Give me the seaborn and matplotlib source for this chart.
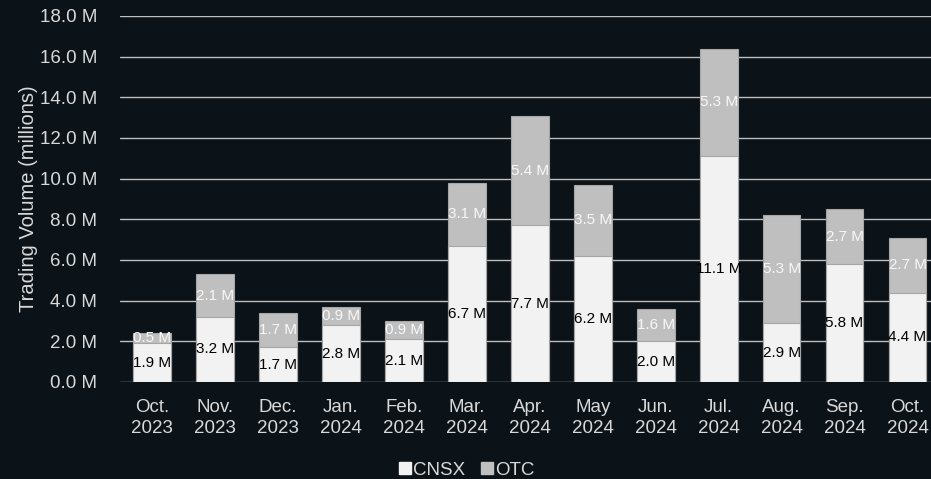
import matplotlib
matplotlib.use('Agg')
import matplotlib.pyplot as plt
import seaborn as sns
import pandas as pd
from matplotlib.lines import Line2D

# Monthly trading volume (millions)
months = ['Oct.\n2023', 'Nov.\n2023', 'Dec.\n2023', 'Jan.\n2024', 'Feb.\n2024', 'Mar.\n2024',
          'Apr.\n2024', 'May\n2024', 'Jun.\n2024', 'Jul.\n2024', 'Aug.\n2024', 'Sep.\n2024', 'Oct.\n2024']
cnsx = [1.9, 3.2, 1.7, 2.8, 2.1, 6.7, 7.7, 6.2, 2.0, 11.1, 2.9, 5.8, 4.4]
otc = [0.5, 2.1, 1.7, 0.9, 0.9, 3.1, 5.4, 3.5, 1.6, 5.3, 5.3, 2.7, 2.7]

df = pd.DataFrame({'month': months, 'CNSX': cnsx, 'OTC': otc})
df['total'] = df['CNSX'] + df['OTC']

bg = '#0b1218'
c_cnsx = '#f2f2f2'
c_otc = '#bfbfbf'
txt = '#d9d9d9'

sns.set_theme(style='dark')
plt.rcParams['font.family'] = ['Liberation Sans', 'DejaVu Sans']

fig = plt.figure(figsize=(9.31, 4.79), dpi=100, facecolor=bg)
ax = fig.add_axes([120.5 / 931, 97 / 479, 818.5 / 931, 366 / 479])
ax.set_facecolor(bg)

# stacked: total in OTC colour, then CNSX on top of it
sns.barplot(data=df, x='month', y='total', color=c_otc, width=0.6, saturation=1,
            edgecolor='#a6a6a6', linewidth=0.8, ax=ax, zorder=2)
sns.barplot(data=df, x='month', y='CNSX', color=c_cnsx, width=0.6, saturation=1,
            edgecolor='#a6a6a6', linewidth=0.8, ax=ax, zorder=3)

for i, row in df.iterrows():
    ax.text(i, row['CNSX'] / 2, f"{row['CNSX']:.1f} M", ha='center', va='center',
            fontsize=11, color='black', zorder=5)
    ax.text(i, row['CNSX'] + row['OTC'] / 2, f"{row['OTC']:.1f} M", ha='center', va='center',
            fontsize=11, color='#f7f7f7', zorder=5)

ax.set_ylim(0, 18)
ax.set_xlim(-0.5, len(months) - 0.5)
ax.set_yticks(range(0, 19, 2))
ax.set_yticklabels([f'{v:.1f} M' for v in range(0, 19, 2)])
ax.yaxis.grid(True, color='#bfbfbf', linewidth=1.0, zorder=0)
ax.xaxis.grid(False)
ax.set_axisbelow(True)
for s in ax.spines.values():
    s.set_visible(False)
ax.tick_params(axis='both', colors=txt, labelsize=13.5, length=0)
ax.tick_params(axis='y', pad=17)
ax.tick_params(axis='x', pad=12)
for lab in ax.get_xticklabels():
    lab.set_linespacing(1.3)
ax.set_xlabel('')
ax.set_ylabel('Trading Volume (millions)', color=txt, fontsize=14.5, labelpad=1)

handles = [Line2D([], [], marker='s', linestyle='', markersize=9, color=c_cnsx, label='CNSX'),
           Line2D([], [], marker='s', linestyle='', markersize=9, color=c_otc, label='OTC')]
leg = fig.legend(handles=handles, loc='lower center', bbox_to_anchor=(0.5, -0.035), ncol=2,
                 frameon=False, fontsize=13.5, handletextpad=0.0, columnspacing=0.7,
                 handlelength=0.9)
for t in leg.get_texts():
    t.set_color(txt)

fig.savefig('out.png', dpi=100, facecolor=bg)
